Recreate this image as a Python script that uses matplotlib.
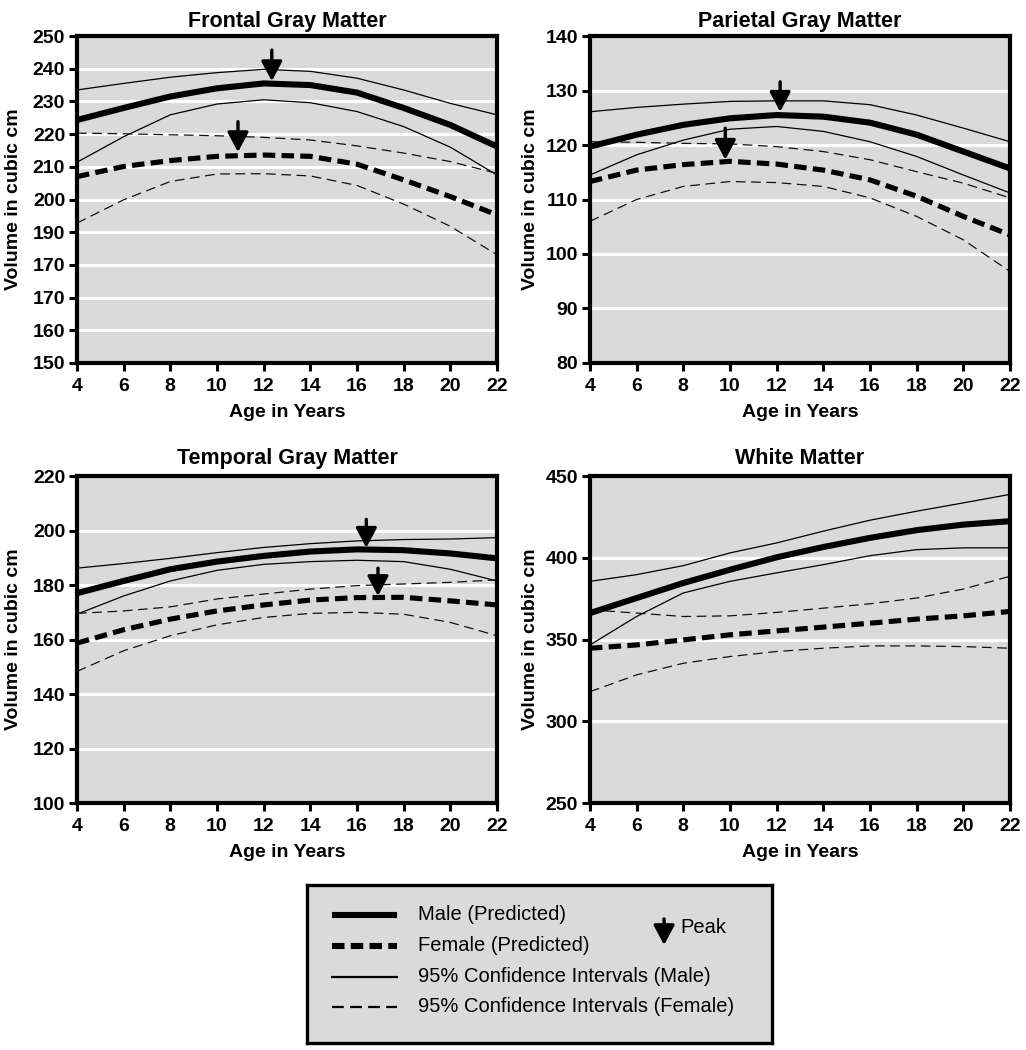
import matplotlib
matplotlib.use("Agg")
import matplotlib.pyplot as plt
import numpy as np

plt.rcParams['font.family'] = ['Liberation Sans', 'DejaVu Sans']
plt.rcParams['lines.scale_dashes'] = False

ages = [4, 6, 8, 10, 12, 14, 16, 18, 20, 22]

# ---- Frontal Gray Matter ----
frontal_male = [224.3, 228.0, 231.5, 234.0, 235.5, 235.0, 232.7, 228.0, 222.8, 216.2]
frontal_male_hi = [233.5, 235.5, 237.4, 238.8, 239.8, 239.2, 237.1, 233.5, 229.4, 225.9]
frontal_male_lo = [211.4, 219.2, 225.9, 229.2, 230.5, 229.6, 226.9, 222.3, 216.0, 207.5]
frontal_female = [207.0, 210.1, 211.9, 213.2, 213.6, 213.2, 210.8, 206.0, 200.9, 195.3]
frontal_female_hi = [220.3, 220.1, 219.8, 219.5, 219.0, 218.2, 216.4, 214.2, 211.6, 208.0]
frontal_female_lo = [192.8, 199.9, 205.5, 207.8, 207.9, 207.2, 204.3, 198.6, 191.8, 183.1]
frontal_yticks = [150, 160, 170, 180, 190, 200, 210, 220, 230, 240, 250]
frontal_ylabels = ['150', '160', '170', '170', '190', '200', '210', '220', '230', '240', '250']
frontal_peaks = [(12.35, 236.2, 245.7), (10.9, 214.5, 223.8)]

# ---- Parietal Gray Matter ----
parietal_male = [119.7, 121.9, 123.7, 124.9, 125.5, 125.2, 124.1, 121.9, 118.8, 115.7]
parietal_male_hi = [126.1, 126.9, 127.5, 128.0, 128.1, 128.1, 127.4, 125.5, 123.1, 120.6]
parietal_male_lo = [114.5, 118.2, 120.9, 122.9, 123.4, 122.5, 120.6, 117.9, 114.5, 111.2]
parietal_female = [113.3, 115.4, 116.4, 117.0, 116.5, 115.4, 113.6, 110.6, 106.9, 103.5]
parietal_female_hi = [120.6, 120.5, 120.3, 120.2, 119.7, 118.8, 117.3, 115.1, 113.0, 110.3]
parietal_female_lo = [106.0, 110.0, 112.4, 113.3, 113.1, 112.4, 110.3, 106.9, 102.6, 96.8]
parietal_yticks = [80, 90, 100, 110, 120, 130, 140]
parietal_ylabels = ['80', '90', '100', '110', '120', '130', '140']
parietal_peaks = [(12.15, 126.1, 131.6), (9.8, 117.3, 123.1)]

# ---- Temporal Gray Matter ----
temporal_male = [177.0, 181.5, 185.8, 188.6, 190.7, 192.3, 193.1, 192.8, 191.6, 189.8]
temporal_male_hi = [186.2, 187.9, 189.8, 191.9, 193.8, 195.2, 196.2, 196.7, 196.9, 197.4]
temporal_male_lo = [169.3, 176.0, 181.5, 185.4, 187.6, 188.6, 189.1, 188.6, 185.8, 181.5]
temporal_female = [158.7, 163.6, 167.5, 170.5, 172.7, 174.5, 175.4, 175.5, 174.2, 172.7]
temporal_female_hi = [169.6, 170.5, 172.0, 174.9, 176.7, 178.5, 179.8, 180.4, 181.0, 181.9]
temporal_female_lo = [148.3, 155.9, 161.4, 165.4, 168.1, 169.6, 170.0, 169.3, 166.3, 161.4]
temporal_yticks = [100, 120, 140, 160, 180, 200, 220]
temporal_ylabels = ['100', '120', '140', '160', '180', '200', '220']
temporal_peaks = [(16.4, 193.7, 204.1), (16.9, 176.0, 186.2)]

# ---- White Matter ----
white_male = [366.2, 375.4, 384.6, 392.7, 400.3, 406.6, 412.2, 416.9, 420.3, 422.4]
white_male_hi = [385.6, 389.7, 395.2, 403.0, 409.1, 416.3, 423.0, 428.5, 433.6, 438.8]
white_male_lo = [346.7, 364.1, 378.5, 385.6, 390.8, 395.8, 401.3, 405.0, 406.1, 406.1]
white_female = [344.7, 346.7, 349.8, 352.9, 355.3, 357.6, 360.0, 362.5, 364.5, 367.2]
white_female_hi = [368.2, 366.2, 364.1, 364.5, 366.6, 369.2, 371.9, 375.4, 380.9, 388.7]
white_female_lo = [318.1, 328.4, 335.5, 339.6, 342.7, 344.7, 346.1, 346.1, 345.7, 344.7]
white_yticks = [250, 300, 350, 400, 450]
white_ylabels = ['250', '300', '350', '400', '450']
white_peaks = []

xticks = [4, 6, 8, 10, 12, 14, 16, 18, 20, 22]

legend_labels = ['Male (Predicted)', 'Female (Predicted)',
                 '95% Confidence Intervals (Male)', '95% Confidence Intervals (Female)']

BG = '#dadada'
STY_MALE = dict(color='black', lw=4.4, solid_capstyle='butt')
STY_FEMALE = dict(color='black', lw=3.7, ls=(0, (9, 4.5)), dash_capstyle='butt')
STY_MCI = dict(color='black', lw=0.9)
STY_FCI = dict(color='#111111', lw=0.9, ls=(0, (7, 4)))

panels = [
    ("Frontal Gray Matter", [0.0750, 0.6543, 0.4094, 0.3114],
     (frontal_male, frontal_male_hi, frontal_male_lo, frontal_female, frontal_female_hi, frontal_female_lo),
     frontal_yticks, frontal_ylabels, frontal_peaks, -0.150, 6.5),
    ("Parietal Gray Matter", [0.5750, 0.6543, 0.4094, 0.3114],
     (parietal_male, parietal_male_hi, parietal_male_lo, parietal_female, parietal_female_hi, parietal_female_lo),
     parietal_yticks, parietal_ylabels, parietal_peaks, -0.141, 6.5),
    ("Temporal Gray Matter", [0.0750, 0.2352, 0.4094, 0.3114],
     (temporal_male, temporal_male_hi, temporal_male_lo, temporal_female, temporal_female_hi, temporal_female_lo),
     temporal_yticks, temporal_ylabels, temporal_peaks, -0.150, 9),
    ("White Matter", [0.5750, 0.2352, 0.4094, 0.3114],
     (white_male, white_male_hi, white_male_lo, white_female, white_female_hi, white_female_lo),
     white_yticks, white_ylabels, white_peaks, -0.141, 9),
]

fig = plt.figure(figsize=(10.26, 10.5), dpi=100)

for title, rect, series, yt, yl, peaks, ylx, tpad in panels:
    ax = fig.add_axes(rect)
    ax.set_facecolor(BG)
    m, mhi, mlo, f, fhi, flo = series
    ax.plot(ages, mhi, **STY_MCI)
    ax.plot(ages, mlo, **STY_MCI)
    ax.plot(ages, fhi, **STY_FCI)
    ax.plot(ages, flo, **STY_FCI)
    ax.plot(ages, f, **STY_FEMALE)
    ax.plot(ages, m, **STY_MALE)
    for px, tip, top in peaks:
        ax.annotate('', xy=(px, tip), xytext=(px, top),
                    arrowprops=dict(arrowstyle='-|>,head_length=0.6,head_width=0.32',
                                    lw=2.4, color='black', mutation_scale=20,
                                    shrinkA=0, shrinkB=0))
    ax.set_xlim(4, 22)
    ax.set_ylim(yt[0], yt[-1])
    ax.set_xticks(xticks)
    ax.set_xticklabels([str(v) for v in xticks])
    ax.set_yticks(yt)
    ax.set_yticklabels(yl)
    ax.set_axisbelow(True)
    ax.yaxis.grid(True, color='white', lw=2.2)
    for s in ax.spines.values():
        s.set_linewidth(3)
    ax.tick_params(axis='both', direction='out', length=6, width=2.2,
                   labelsize=14)
    ax.tick_params(axis='x', pad=5)
    ax.tick_params(axis='y', pad=2.5)
    for lab in ax.get_xticklabels() + ax.get_yticklabels():
        lab.set_fontweight('bold')
    ax.set_title(title, fontsize=15.5, fontweight='bold', pad=tpad)
    ax.set_xlabel('Age in Years', fontsize=14, fontweight='bold')
    ax.set_ylabel('Volume in cubic cm', fontsize=14, fontweight='bold')
    ax.xaxis.label.set_va('center')
    ax.xaxis.set_label_coords(0.5, -0.15)
    ax.yaxis.label.set_va('center')
    ax.yaxis.set_label_coords(ylx, 0.5)

# ---- Legend box ----
lax = fig.add_axes([0.2992, 0.00667, 0.4532, 0.1505])
lax.set_facecolor(BG)
lax.set_xlim(0, 1)
lax.set_ylim(0, 1)
lax.set_xticks([])
lax.set_yticks([])
for s in lax.spines.values():
    s.set_linewidth(2.4)
row_y = [0.81, 0.614, 0.418, 0.228]
leg_styles = [
    dict(color='black', lw=4.4, solid_capstyle='butt'),
    dict(color='black', lw=4.4, ls=(0, (9, 4.5)), dash_capstyle='butt'),
    dict(color='black', lw=1.6),
    dict(color='black', lw=1.6, ls=(0, (8.5, 4.5))),
]
for yv, sty, lab in zip(row_y, leg_styles, legend_labels):
    lax.plot([0.054, 0.194], [yv, yv], **sty)
    lax.text(0.238, yv, lab, fontsize=14.5, va='center', ha='left')
lax.annotate('', xy=(0.768, 0.62), xytext=(0.768, 0.785),
             arrowprops=dict(arrowstyle='-|>,head_length=0.6,head_width=0.32',
                             lw=2.4, color='black', mutation_scale=20,
                             shrinkA=0, shrinkB=0))
lax.text(0.804, 0.728, 'Peak', fontsize=14.5, va='center', ha='left')

fig.savefig('out.png', dpi=100, facecolor='white')
